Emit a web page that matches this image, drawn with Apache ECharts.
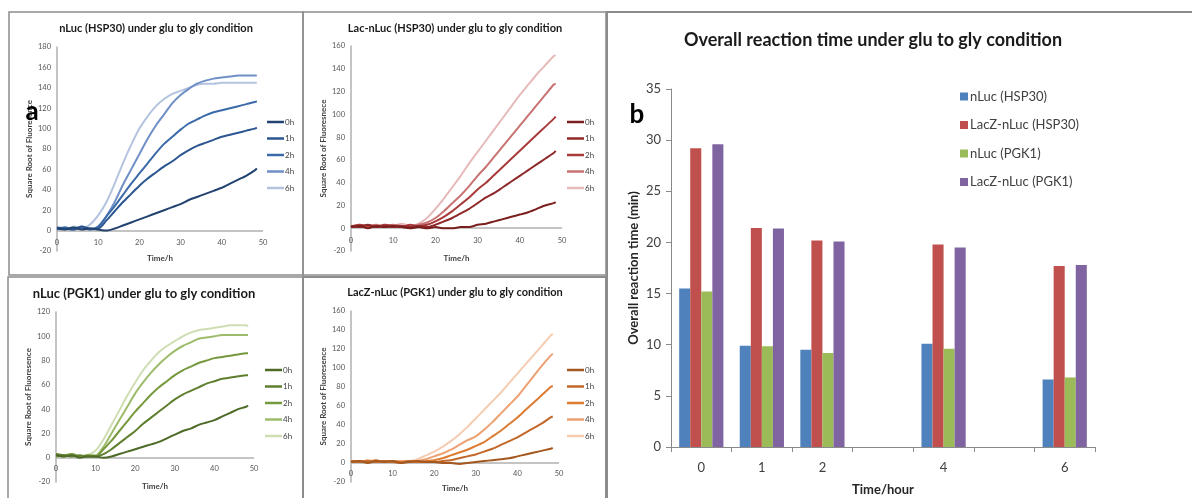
<!DOCTYPE html>
<html>
<head>
<meta charset="utf-8">
<script src="https://cdn.jsdelivr.net/npm/echarts@6/dist/echarts.min.js"></script>
<style>
  html, body { margin: 0; padding: 0; background: #fff; }
  #chart { width: 1192px; height: 498px; }
</style>
</head>
<body>
<div id="chart"></div>
<script>
// Sampling times (h) shared by the four kinetic curves
const hours = [0,2,4,6,8,10,12,14,16,18,20,22,24,26,28,30,32,34,36,38,40,42,44,46,48,48.5];
const shiftLabels = ['0h','1h','2h','4h','6h'];

// nLuc (HSP30): square root of fluorescence
const nLucHSP30_0h = [2,1,3,1,2,1,0,2,5,8,11,14,17,20,23,26,30,33,36,39,42,46,50,54,59,61];
const nLucHSP30_1h = [3,2,1,4,2,2,10,19,28,36,44,51,57,63,68,74,79,83,86,89,92,94,96,98,100,101];
const nLucHSP30_2h = [2,3,1,3,1,4,14,24,35,46,56,66,76,85,92,99,105,109,113,116,118,120,122,124,126,127];
const nLucHSP30_4h = [1,3,2,4,1,3,14,28,45,60,75,90,103,114,125,133,139,144,147,149,150,151,152,152,152,152];
const nLucHSP30_6h = [3,1,4,2,6,15,28,46,66,84,100,112,122,129,134,137,140,143,144,144,145,145,145,145,145,145];

// Lac-nLuc (HSP30)
const lacHSP30_0h = [1,2,0,2,1,2,1,0,1,0,1,0,0,1,1,3,4,6,8,10,12,14,17,20,22,23];
const lacHSP30_1h = [2,1,3,1,2,1,2,1,2,1,3,6,9,13,17,22,27,31,36,41,46,51,56,61,66,68];
const lacHSP30_2h = [1,3,2,1,3,2,1,3,2,3,6,10,15,21,27,34,40,47,54,61,68,75,82,89,96,98];
const lacHSP30_4h = [2,1,2,3,1,3,2,1,3,5,9,15,22,29,37,46,54,63,72,81,90,99,108,117,126,127];
const lacHSP30_6h = [2,3,1,2,3,2,4,2,4,9,17,26,36,46,57,67,77,87,97,107,117,126,135,143,151,152];

// nLuc (PGK1)
const nLucPGK1_0h = [2,1,2,0,1,1,0,1,3,5,7,9,11,13,16,19,22,24,27,29,31,34,37,40,42,43];
const nLucPGK1_1h = [3,2,1,2,1,1,3,7,12,17,22,28,33,38,43,48,52,55,58,61,63,65,66,67,68,68];
const nLucPGK1_2h = [1,2,3,1,2,1,7,14,22,30,38,45,52,58,63,68,72,75,78,80,82,83,84,85,86,86];
const nLucPGK1_4h = [2,1,2,1,2,2,9,20,31,42,53,62,70,77,83,88,92,95,98,99,100,101,101,101,101,101];
const nLucPGK1_6h = [3,2,3,1,2,6,15,27,39,51,62,72,80,87,92,96,100,103,105,106,107,108,109,109,109,108];

// LacZ-nLuc (PGK1)
const lacPGK1_0h = [1,2,0,2,1,2,0,1,2,1,1,0,0,-1,0,1,2,3,4,5,7,9,11,13,15,16];
const lacPGK1_1h = [2,1,2,1,2,1,0,2,1,1,1,2,3,5,7,9,12,15,19,23,27,32,37,42,48,49];
const lacPGK1_2h = [1,2,1,3,1,2,1,2,1,2,3,5,8,11,14,18,22,28,34,41,48,56,64,72,80,81];
const lacPGK1_4h = [2,1,3,1,2,1,2,1,2,4,7,10,14,19,24,28,35,43,52,61,70,81,92,103,113,115];
const lacPGK1_6h = [3,1,2,3,1,2,1,2,4,8,12,17,23,30,38,47,56,65,74,84,94,104,114,124,134,136];

// Overall reaction time (min) per shift time; 3 h and 5 h were not measured
const shiftHours = ['0','1','2','3','4','5','6'];
const shiftTickLabels = ['0','1','2','','4','','6'];
const barNames = ['nLuc (HSP30)','LacZ-nLuc (HSP30)','nLuc (PGK1)','LacZ-nLuc (PGK1)'];
const rtNLucHSP30 = [15.5, 9.9, 9.5, null, 10.1, null, 6.6];
const rtLacZHSP30 = [29.2, 21.4, 20.2, null, 19.8, null, 17.7];
const rtNLucPGK1  = [15.2, 9.85, 9.2, null, 9.6, null, 6.8];
const rtLacZPGK1  = [29.6, 21.35, 20.1, null, 19.5, null, 17.8];
</script>
<script>
const FONT = 'Lato, "Open Sans", sans-serif';
const AXIS_GREY = '#8a8a8a';
const SMALL_AXIS = '#b0b0b0';

// x tick labels sit just under the zero line; labelMargin is measured from the plot bottom
const panels = [
  { key: 'p1', title: 'nLuc (HSP30) under glu to gly condition', yName: 'Square Root of Fluoresence',
    grid: { left: 57, top: 47, width: 206, height: 204 }, yMax: 180, xNameGap: 3, labelMargin: -12,
    sets: [nLucHSP30_0h, nLucHSP30_1h, nLucHSP30_2h, nLucHSP30_4h, nLucHSP30_6h],
    colors: ['#22426f', '#2b5690', '#3b6aa9', '#6f8fc6', '#b4c4df'],
    titlePos: [156, 28], titleSize: 11, legend: [267, 118] },
  { key: 'p2', title: 'Lac-nLuc (HSP30) under glu to gly condition', yName: 'Square Root of Fluoresnece',
    grid: { left: 351, top: 46, width: 211, height: 205 }, yMax: 160, xNameGap: 3, labelMargin: -14,
    sets: [lacHSP30_0h, lacHSP30_1h, lacHSP30_2h, lacHSP30_4h, lacHSP30_6h],
    colors: ['#7a1e1e', '#8f2929', '#a93a3a', '#c97272', '#e6baba'],
    titlePos: [455, 28], titleSize: 11, legend: [567, 118] },
  { key: 'p3', title: 'nLuc (PGK1) under glu to gly condition', yName: 'Square Root of Fluoresence',
    grid: { left: 56, top: 312, width: 198, height: 170 }, yMax: 120, xNameGap: 0, labelMargin: -17,
    sets: [nLucPGK1_0h, nLucPGK1_1h, nLucPGK1_2h, nLucPGK1_4h, nLucPGK1_6h],
    colors: ['#4e6a27', '#5f7f2f', '#76993d', '#9dbc6b', '#cfdeb2'],
    titlePos: [144, 294], titleSize: 13, legend: [265, 366] },
  { key: 'p4', title: 'LacZ-nLuc (PGK1) under glu to gly condition', yName: 'Square Root of Fluoresence',
    grid: { left: 351, top: 311, width: 208, height: 171 }, yMax: 160, xNameGap: 2, labelMargin: -12,
    sets: [lacPGK1_0h, lacPGK1_1h, lacPGK1_2h, lacPGK1_4h, lacPGK1_6h],
    colors: ['#a4571e', '#c2692a', '#dc7b31', '#eda071', '#f6ccb1'],
    titlePos: [455, 292], titleSize: 11, legend: [567, 366] }
];

const grids = [], xAxes = [], yAxes = [], series = [], legends = [], graphics = [];

panels.forEach((p, i) => {
  grids.push(Object.assign({ outerBoundsMode: 'none' }, p.grid));
  xAxes.push({
    type: 'value', gridIndex: i, min: 0, max: 50, interval: 10,
    name: 'Time/h', nameLocation: 'middle', nameGap: p.xNameGap, nameMoveOverlap: false,
    nameTextStyle: { fontFamily: FONT, fontSize: 8, fontWeight: 'bold', color: '#404040' },
    axisLine: { show: false, onZero: false },
    axisTick: { show: false },
    axisLabel: { fontFamily: FONT, fontSize: 7.5, color: '#555', margin: p.labelMargin },
    splitLine: { show: false }
  });
  yAxes.push({
    type: 'value', gridIndex: i, min: -20, max: p.yMax, interval: 20,
    name: p.yName, nameLocation: 'middle', nameGap: 24, nameMoveOverlap: false,
    nameTextStyle: { fontFamily: FONT, fontSize: 8, fontWeight: 'bold', color: '#404040' },
    axisLine: { show: true, onZero: false, lineStyle: { color: SMALL_AXIS, width: 1.5 } },
    axisTick: { show: false },
    axisLabel: { fontFamily: FONT, fontSize: 7.5, color: '#555', margin: 6 },
    splitLine: { show: false }
  });
  const names = [];
  p.sets.forEach((vals, k) => {
    const nm = p.key + '|' + shiftLabels[k];
    names.push(nm);
    const s = {
      type: 'line', name: nm, xAxisIndex: i, yAxisIndex: i,
      data: hours.map((t, j) => [t, vals[j]]),
      showSymbol: false, smooth: 0.25,
      lineStyle: { width: 2, color: p.colors[k] },
      itemStyle: { color: p.colors[k] },
      z: 3 + (4 - k)
    };
    if (k === 0) {
      // horizontal time axis line drawn at zero
      s.markLine = {
        silent: true, symbol: 'none', z: 1, label: { show: false },
        lineStyle: { color: SMALL_AXIS, width: 1.5, type: 'solid' },
        data: [{ yAxis: 0 }]
      };
    }
    series.push(s);
  });
  legends.push({
    data: names, orient: 'vertical', left: p.legend[0], top: p.legend[1],
    icon: 'rect', itemWidth: 17, itemHeight: 2.5, itemGap: 8.5,
    formatter: n => n.split('|')[1], selectedMode: false, padding: 0,
    textStyle: { fontFamily: FONT, fontSize: 8, color: '#404040', padding: [0, 0, 0, -4] }
  });
  graphics.push({
    type: 'text', x: p.titlePos[0], y: p.titlePos[1],
    style: { text: p.title, fill: '#1a1a1a', font: 'bold ' + p.titleSize + 'px ' + FONT,
             textAlign: 'center', textVerticalAlign: 'middle', align: 'center', verticalAlign: 'middle' }
  });
});

// Overall reaction time bar chart
const barColors = ['#4f81bd', '#c0504d', '#9bbb59', '#8064a2'];
const barSets = [rtNLucHSP30, rtLacZHSP30, rtNLucPGK1, rtLacZPGK1];
grids.push({ left: 671, top: 89, width: 424, height: 358, outerBoundsMode: 'none' });
xAxes.push({
  type: 'category', gridIndex: 4, data: shiftHours,
  name: 'Time/hour', nameLocation: 'middle', nameGap: 36, nameMoveOverlap: false,
  nameTextStyle: { fontFamily: FONT, fontSize: 13, fontWeight: 'bold', color: '#262626' },
  axisLine: { lineStyle: { color: AXIS_GREY, width: 1 } },
  axisTick: { show: true, length: 5, alignWithLabel: false, lineStyle: { color: AXIS_GREY } },
  axisLabel: { fontFamily: FONT, fontSize: 13, color: '#404040', margin: 14,
               formatter: (v, idx) => shiftTickLabels[idx] },
  splitLine: { show: false }
});
yAxes.push({
  type: 'value', gridIndex: 4, min: 0, max: 35, interval: 5,
  name: 'Overall reaction time (min)', nameLocation: 'middle', nameGap: 31, nameMoveOverlap: false,
  nameTextStyle: { fontFamily: FONT, fontSize: 13, fontWeight: 'bold', color: '#262626' },
  axisLine: { show: true, lineStyle: { color: AXIS_GREY, width: 1 } },
  axisTick: { show: true, length: 5, lineStyle: { color: AXIS_GREY } },
  axisLabel: { fontFamily: FONT, fontSize: 13, color: '#404040', margin: 10 },
  splitLine: { show: false }
});
barSets.forEach((vals, k) => {
  series.push({
    type: 'bar', name: barNames[k], xAxisIndex: 4, yAxisIndex: 4,
    data: vals, barGap: '0%', barCategoryGap: '27%',
    itemStyle: { color: barColors[k] }
  });
});
legends.push({
  data: barNames, orient: 'vertical', left: 960, top: 90,
  icon: 'rect', itemWidth: 8, itemHeight: 8, itemGap: 15.5, selectedMode: false, padding: 0,
  textStyle: { fontFamily: FONT, fontSize: 13, color: '#404040', padding: [0, 0, 0, -3] }
});

// panel frames
const frame = (x, y, w, h, lw) => ({
  type: 'rect', shape: { x, y, width: w, height: h }, silent: true,
  style: { fill: 'none', stroke: '#8c8c8c', lineWidth: lw }, z: 100
});
graphics.push(frame(9, 12, 294, 263, 1.5));
graphics.push(frame(303, 12, 303, 263, 1.5));
graphics.push(frame(8, 277, 295, 230, 1.5));
graphics.push(frame(303, 277, 303, 230, 2));
graphics.push(frame(607, 12, 600, 500, 2));

graphics.push({
  type: 'text', x: 873, y: 40,
  style: { text: 'Overall reaction time under glu to gly condition', fill: '#1a1a1a',
           font: 'bold 18px ' + FONT, textAlign: 'center', textVerticalAlign: 'middle',
           align: 'center', verticalAlign: 'middle' }
});
graphics.push({
  type: 'text', x: 32, y: 112,
  style: { text: 'a', fill: '#000', font: 'bold 26px ' + FONT, textAlign: 'center',
           textVerticalAlign: 'middle', align: 'center', verticalAlign: 'middle' }, z: 110
});
graphics.push({
  type: 'text', x: 637, y: 115,
  style: { text: 'b', fill: '#000', font: 'bold 26px ' + FONT, textAlign: 'center',
           textVerticalAlign: 'middle', align: 'center', verticalAlign: 'middle' }, z: 110
});

const chart = echarts.init(document.getElementById('chart'), null, { renderer: 'canvas' });
chart.setOption({
  backgroundColor: '#fff',
  animation: false,
  textStyle: { fontFamily: FONT },
  grid: grids,
  xAxis: xAxes,
  yAxis: yAxes,
  legend: legends,
  series: series,
  graphic: { elements: graphics }
});
</script>
</body>
</html>
